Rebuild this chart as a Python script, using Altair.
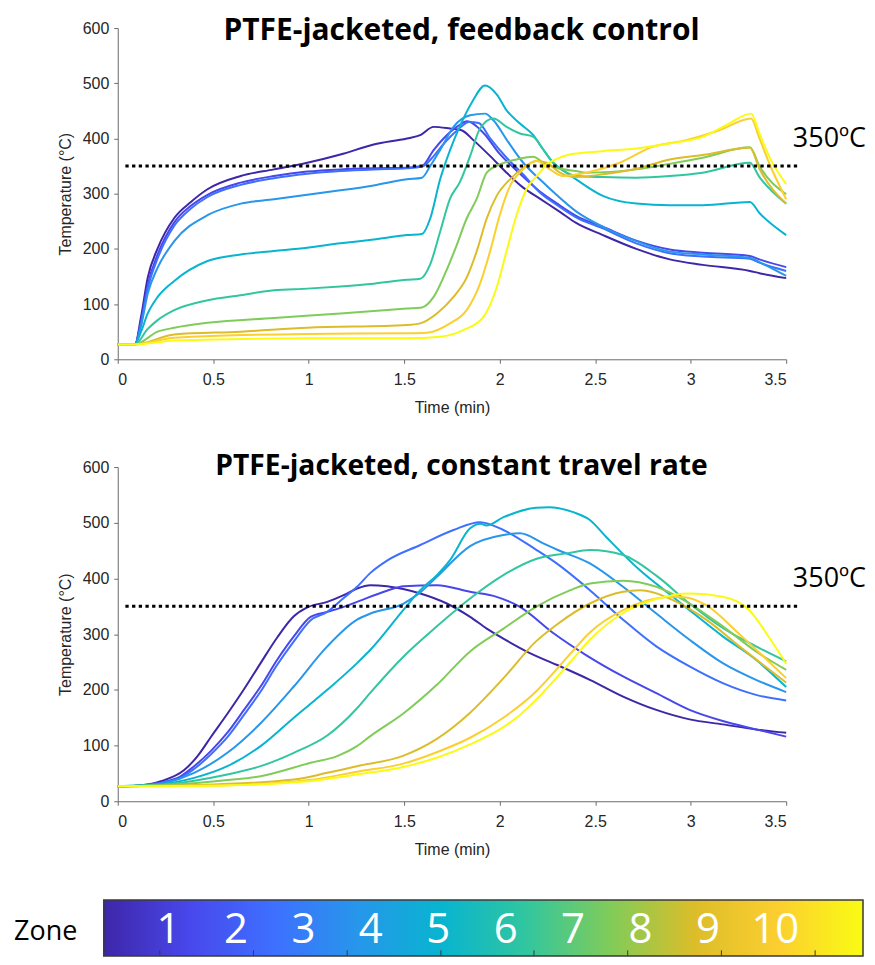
import altair as alt
import pandas as pd

# ---------------- data (time in min, temperature in degC) ----------------
ZONES = [1, 2, 3, 4, 5, 6, 7, 8, 9, 10]
PARULA = ["#3e26a8", "#4847eb", "#3e6fff", "#2796eb", "#08b4d0",
          "#31c69f", "#80cc59", "#dcbd29", "#fccf30", "#f9fb14"]

X_TICKS = [0, 0.5, 1, 1.5, 2, 2.5, 3, 3.5]
Y_TICKS = [0, 100, 200, 300, 400, 500, 600]

TITLE_TOP = "PTFE-jacketed, feedback control"
TITLE_BOT = "PTFE-jacketed, constant travel rate"
SETPOINT = 350
SETPOINT_LABEL = "350ºC"

# feedback control panel
TOP_Z1 = [(0,27),(0.09,27),(0.122,77),(0.157,148),(0.209,201),(0.296,256),(0.383,285),(0.47,308),(0.644,332),(0.818,344),(0.992,356),(1.166,371),(1.34,389),(1.514,400),(1.584,406),(1.654,421),(1.74,418),(1.8,415),(1.862,397),(1.95,368),(2.036,338),(2.123,311),(2.21,291),(2.315,267),(2.40,247),(2.54,225),(2.715,200),(2.89,181),(3.063,171),(3.31,160),(3.36,156),(3.5,147)]
TOP_Z2 = [(0,27),(0.09,27),(0.122,70),(0.157,135),(0.209,190),(0.296,248),(0.383,278),(0.47,298),(0.644,320),(0.818,332),(0.992,340),(1.166,344),(1.34,346),(1.514,347),(1.593,350),(1.654,379),(1.706,400),(1.775,421),(1.83,431),(1.915,410),(2.0,372),(2.088,342),(2.21,304),(2.297,283),(2.40,260),(2.54,240),(2.715,215),(2.89,199),(3.063,193),(3.31,187),(3.36,181),(3.5,167)]
TOP_Z3 = [(0,27),(0.09,27),(0.122,65),(0.157,128),(0.209,183),(0.296,242),(0.383,273),(0.47,294),(0.644,316),(0.818,328),(0.992,336),(1.166,341),(1.34,344),(1.514,346),(1.593,349),(1.654,368),(1.706,390),(1.775,414),(1.84,430),(1.89,428),(1.95,400),(2.036,365),(2.123,335),(2.21,302),(2.297,280),(2.40,257),(2.54,237),(2.715,210),(2.89,192),(3.063,186),(3.31,182),(3.36,175),(3.5,160)]
TOP_Z4 = [(0,27),(0.09,27),(0.122,60),(0.157,119),(0.209,166),(0.296,214),(0.47,261),(0.644,282),(0.818,290),(0.992,298),(1.166,306),(1.34,315),(1.514,326),(1.593,329),(1.636,350),(1.688,379),(1.758,421),(1.845,442),(1.923,445),(1.967,433),(2.036,398),(2.123,356),(2.21,326),(2.297,298),(2.40,268),(2.54,240),(2.715,214),(2.89,195),(3.063,190),(3.31,184),(3.36,176),(3.5,151)]
TOP_Z5 = [(0,27),(0.09,27),(0.122,50),(0.157,83),(0.209,113),(0.296,142),(0.47,178),(0.644,190),(0.818,196),(0.992,202),(1.166,210),(1.34,217),(1.514,225),(1.593,227),(1.636,255),(1.688,326),(1.74,379),(1.79,421),(1.854,465),(1.923,496),(1.984,480),(2.036,451),(2.106,427),(2.176,406),(2.228,380),(2.28,356),(2.35,338),(2.40,326),(2.54,296),(2.715,282),(2.89,279),(3.063,279),(3.31,285),(3.36,265),(3.5,225)]
TOP_Z6 = [(0,27),(0.09,27),(0.157,55),(0.209,71),(0.296,89),(0.47,107),(0.644,116),(0.818,125),(0.992,128),(1.166,132),(1.34,137),(1.514,144),(1.584,146),(1.636,172),(1.688,231),(1.74,291),(1.79,320),(1.845,368),(1.897,418),(1.967,436),(2.036,421),(2.106,409),(2.176,403),(2.228,380),(2.28,356),(2.35,338),(2.40,332),(2.54,330),(2.715,329),(2.89,332),(3.063,338),(3.31,356),(3.36,330),(3.5,282)]
TOP_Z7 = [(0,27),(0.09,27),(0.209,50),(0.296,57),(0.47,66),(0.818,75),(1.166,83),(1.514,92),(1.593,94),(1.654,113),(1.72,160),(1.775,207),(1.827,255),(1.88,291),(1.932,338),(2.0,353),(2.088,362),(2.176,367),(2.228,356),(2.297,347),(2.40,341),(2.454,338),(2.715,344),(2.89,354),(3.063,365),(3.31,384),(3.36,350),(3.5,299)]
TOP_Z8 = [(0,27),(0.09,27),(0.296,45),(0.644,50),(0.992,57),(1.514,62),(1.584,65),(1.671,83),(1.758,113),(1.827,148),(1.88,196),(1.932,255),(1.984,296),(2.054,326),(2.123,347),(2.193,359),(2.245,356),(2.315,338),(2.40,330),(2.54,335),(2.715,345),(2.89,362),(3.063,370),(3.31,383),(3.36,345),(3.5,282)]
TOP_Z9 = [(0,27),(0.09,27),(0.296,39),(0.992,46),(1.514,47),(1.619,48),(1.74,65),(1.827,89),(1.897,137),(1.95,196),(2.0,261),(2.054,314),(2.123,344),(2.193,359),(2.263,344),(2.332,332),(2.454,338),(2.628,356),(2.80,385),(2.976,397),(3.15,415),(3.316,436),(3.36,400),(3.41,356),(3.5,290)]
TOP_Z10 = [(0,27),(0.09,27),(0.296,34),(0.992,38),(1.514,38),(1.688,41),(1.81,53),(1.915,77),(1.984,130),(2.036,196),(2.088,261),(2.14,308),(2.21,338),(2.245,353),(2.28,360),(2.367,371),(2.54,377),(2.715,382),(2.89,391),(3.063,403),(3.2,427),(3.316,445),(3.36,409),(3.41,368),(3.5,317)]

# constant travel rate panel
BOT_Z1 = [(0,27),(0.1,28),(0.226,36),(0.348,56),(0.42,82),(0.487,115),(0.574,157),(0.661,201),(0.748,248),(0.835,294),(0.922,332),(0.992,348),(1.097,358),(1.183,370),(1.253,382),(1.323,388),(1.41,386),(1.584,373),(1.723,355),(1.845,331),(1.932,310),(2.019,292),(2.158,266),(2.298,245),(2.472,218),(2.646,188),(2.82,164),(2.994,147),(3.168,138),(3.342,129),(3.5,123)]
BOT_Z2 = [(0,27),(0.1,28),(0.313,42),(0.4,63),(0.487,90),(0.574,123),(0.661,164),(0.748,206),(0.835,254),(0.922,296),(1.01,331),(1.097,340),(1.183,349),(1.253,358),(1.41,378),(1.497,386),(1.671,388),(1.845,376),(1.984,367),(2.106,349),(2.28,302),(2.454,262),(2.646,224),(2.82,194),(2.994,164),(3.168,144),(3.342,129),(3.5,116)]
BOT_Z3 = [(0,27),(0.1,28),(0.313,40),(0.4,58),(0.487,84),(0.574,115),(0.661,155),(0.748,197),(0.835,245),(0.922,287),(1.01,325),(1.097,340),(1.183,365),(1.253,385),(1.323,410),(1.41,432),(1.584,460),(1.758,487),(1.897,501),(2.019,487),(2.193,451),(2.298,427),(2.472,379),(2.646,326),(2.82,278),(2.994,242),(3.168,212),(3.342,191),(3.5,181)]
BOT_Z4 = [(0,27),(0.1,27),(0.4,51),(0.574,87),(0.748,140),(0.922,206),(1.097,278),(1.253,326),(1.323,337),(1.497,355),(1.584,375),(1.671,403),(1.845,458),(2.019,478),(2.106,481),(2.228,463),(2.298,452),(2.472,427),(2.646,385),(2.82,337),(2.994,290),(3.168,248),(3.342,218),(3.5,196)]
BOT_Z5 = [(0,27),(0.2,30),(0.4,42),(0.574,63),(0.748,99),(0.922,150),(1.097,200),(1.253,248),(1.323,272),(1.497,344),(1.584,379),(1.671,406),(1.74,433),(1.845,490),(1.9,498),(1.93,495),(2.02,510),(2.19,527),(2.26,528),(2.385,519),(2.472,505),(2.559,474),(2.733,415),(2.907,367),(2.994,343),(3.168,296),(3.342,254),(3.5,205)]
BOT_Z6 = [(0,27),(0.2,29),(0.4,37),(0.574,48),(0.748,63),(0.922,87),(1.097,118),(1.253,167),(1.323,195),(1.497,260),(1.671,314),(1.845,364),(2.019,406),(2.19,435),(2.35,445),(2.472,451),(2.646,442),(2.82,405),(2.994,355),(3.168,311),(3.342,278),(3.5,251)]
BOT_Z7 = [(0,27),(0.3,30),(0.574,38),(0.748,45),(1.01,69),(1.149,81),(1.253,99),(1.323,117),(1.497,158),(1.671,209),(1.845,269),(2.02,310),(2.19,349),(2.37,379),(2.472,391),(2.646,396),(2.82,385),(2.994,355),(3.168,314),(3.342,269),(3.5,236)]
BOT_Z8 = [(0,27),(0.4,29),(0.922,39),(1.097,51),(1.253,63),(1.497,82),(1.671,112),(1.845,159),(2.02,221),(2.19,287),(2.298,317),(2.472,355),(2.646,376),(2.733,379),(2.907,361),(3.081,326),(3.255,278),(3.5,213)]
BOT_Z9 = [(0,27),(0.5,28),(1.0,38),(1.253,53),(1.5,68),(1.67,88),(1.845,114),(2.019,150),(2.193,198),(2.28,230),(2.37,265),(2.472,303),(2.646,343),(2.82,364),(2.907,367),(2.976,366),(3.081,352),(3.255,300),(3.5,221)]
BOT_Z10 = [(0,27),(0.5,28),(1.0,36),(1.253,48),(1.5,62),(1.67,78),(1.845,102),(2.019,133),(2.106,155),(2.193,183),(2.28,215),(2.37,250),(2.472,290),(2.646,338),(2.82,363),(2.994,373),(3.168,367),(3.307,343),(3.411,294),(3.5,247)]

TOP_SERIES = [TOP_Z1, TOP_Z2, TOP_Z3, TOP_Z4, TOP_Z5, TOP_Z6, TOP_Z7, TOP_Z8, TOP_Z9, TOP_Z10]
BOT_SERIES = [BOT_Z1, BOT_Z2, BOT_Z3, BOT_Z4, BOT_Z5, BOT_Z6, BOT_Z7, BOT_Z8, BOT_Z9, BOT_Z10]

# colour bar
CB_RANGE = [0.04, 11.3]          # extent of the colour bar in zone units
CB_TICKS = [0.87, 2.26, 3.65, 5.04, 6.42, 7.81, 9.2, 10.59]


def series_frame(series):
    rows = []
    for zone, pts in zip(ZONES, series):
        for t, temp in pts:
            rows.append({"zone": zone, "t": t, "T": temp})
    return pd.DataFrame(rows)


AXIS_FONT = "Liberation Sans"
TEXT_FONT = "Open Sans"

x_axis = alt.Axis(values=X_TICKS, format="~g", title="Time (min)", grid=False,
                  tickSize=4, labelPadding=8, titlePadding=12)
y_axis = alt.Axis(values=Y_TICKS, title="Temperature (°C)", grid=False,
                  tickSize=4, labelPadding=5, titlePadding=9)
x_scale = alt.Scale(domain=[0, 3.5], nice=False, zero=False)
y_scale = alt.Scale(domain=[0, 600], nice=False)


def panel(series, title, title_size, title_dy, height):
    X = alt.X("t:Q", scale=x_scale, axis=x_axis)
    Y = alt.Y("T:Q", scale=y_scale, axis=y_axis)
    lines = alt.Chart(series_frame(series)).mark_line(
        strokeWidth=2, interpolate="monotone"
    ).encode(
        x=X, y=Y,
        color=alt.Color("zone:O", scale=alt.Scale(domain=ZONES, range=PARULA), legend=None),
        order=alt.Order("t:Q"),
    )
    ref = alt.Chart(pd.DataFrame({"t": [0.04], "t2": [3.57], "T": [SETPOINT]})).mark_rule(
        color="black", strokeWidth=3, strokeDash=[3.3, 3.4]
    ).encode(x=X, x2="t2:Q", y=Y)
    ref_label = alt.Chart(pd.DataFrame({"t": [3.535], "T": [384], "label": [SETPOINT_LABEL]})).mark_text(
        font=TEXT_FONT, fontSize=27, align="left", baseline="alphabetic", color="black"
    ).encode(x=X, y=Y, text="label:N")
    head = alt.Chart(pd.DataFrame({"t": [1.8], "T": [600], "label": [title]})).mark_text(
        font=TEXT_FONT, fontSize=title_size, fontWeight="bold", align="center",
        baseline="alphabetic", dy=title_dy, color="black"
    ).encode(x=X, y=Y, text="label:N")
    return alt.layer(lines, ref, ref_label, head).properties(width=670, height=height)


top = panel(TOP_SERIES, TITLE_TOP, 30, 12, 332)
bottom = panel(BOT_SERIES, TITLE_BOT, 28.3, 8, 335)

# ---------------- colour bar ----------------
CB_H = 62
CB_BAR = 56
cb_x = alt.Scale(domain=CB_RANGE, range=[-14, 747])
cb_y = alt.Scale(domain=[0, CB_H / CB_BAR], nice=False)
gradient = alt.LinearGradient(
    gradient="linear", x1=0, x2=1, y1=0, y2=0,
    stops=[alt.GradientStop(color=c, offset=i / (len(PARULA) - 1)) for i, c in enumerate(PARULA)],
)
bar = alt.Chart(pd.DataFrame({"z0": [CB_RANGE[0]], "z1": [CB_RANGE[1]], "y0": [0.0], "y1": [1.0]})).mark_rect(
    fill=gradient, stroke="#3a3a3a", strokeWidth=1.5
).encode(
    x=alt.X("z0:Q", scale=cb_x, axis=None),
    x2="z1:Q",
    y=alt.Y("y0:Q", scale=cb_y,
            axis=alt.Axis(title="Zone", titleAngle=0, labels=False, ticks=False, domain=False,
                          grid=False, titleFont=TEXT_FONT, titleFontSize=27, titleFontWeight="normal",
                          titleColor="black", titlePadding=41, titleBaseline="middle", titleAlign="right",
                          titleY=38)),
    y2="y1:Q",
)
cb_ticks = alt.Chart(pd.DataFrame({"z": CB_TICKS, "y0": [0.0] * len(CB_TICKS), "y1": [0.1] * len(CB_TICKS)})).mark_rule(
    color="#3a3a3a", strokeWidth=1
).encode(x=alt.X("z:Q", scale=cb_x, axis=None), y=alt.Y("y0:Q", scale=cb_y), y2="y1:Q")
nums = alt.Chart(pd.DataFrame({"zone": ZONES, "ym": [0.47] * len(ZONES)})).mark_text(
    font=TEXT_FONT, fontSize=42, color="white", baseline="middle", align="center"
).encode(x=alt.X("zone:Q", scale=cb_x, axis=None), y=alt.Y("ym:Q", scale=cb_y), text="zone:N")

cbar = alt.layer(bar, cb_ticks, nums).properties(width=670, height=CB_H)

chart = alt.vconcat(top, bottom, cbar, spacing=37).properties(
    padding={"left": 5, "top": 7, "right": 0, "bottom": 0}
).configure_view(stroke=None).configure_axis(
    labelFont=AXIS_FONT, labelFontSize=16, labelColor="#262626",
    titleFont=AXIS_FONT, titleFontSize=16, titleFontWeight="normal", titleColor="#262626",
    domainColor="#6b6b6b", tickColor="#6b6b6b", domainWidth=1,
)

chart.save("out.html", embed_options={"renderer": "svg", "actions": False})
